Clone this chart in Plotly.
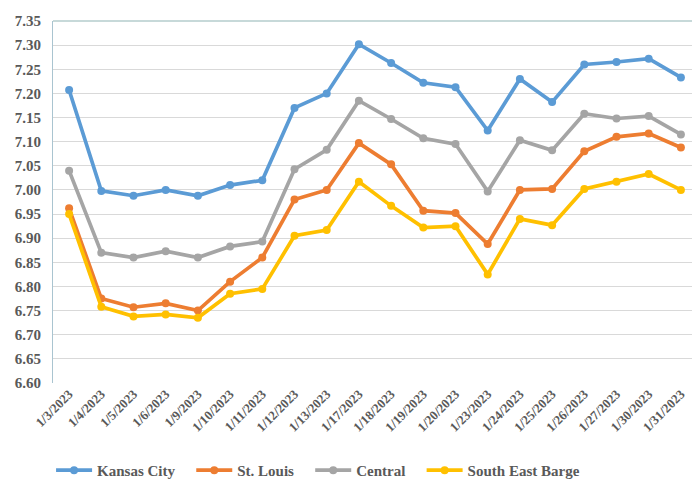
import plotly.graph_objects as go

dates = ["1/3/2023", "1/4/2023", "1/5/2023", "1/6/2023", "1/9/2023", "1/10/2023", "1/11/2023",
         "1/12/2023", "1/13/2023", "1/17/2023", "1/18/2023", "1/19/2023", "1/20/2023", "1/23/2023",
         "1/24/2023", "1/25/2023", "1/26/2023", "1/27/2023", "1/30/2023", "1/31/2023"]

kansas_city = [7.207, 6.998, 6.988, 7.000, 6.988, 7.010, 7.020, 7.170, 7.200, 7.302,
               7.263, 7.222, 7.213, 7.123, 7.230, 7.182, 7.260, 7.265, 7.272, 7.233]
st_louis = [6.962, 6.775, 6.757, 6.765, 6.750, 6.810, 6.860, 6.980, 7.000, 7.097,
            7.053, 6.957, 6.952, 6.888, 7.000, 7.002, 7.080, 7.110, 7.117, 7.088]
central = [7.040, 6.870, 6.860, 6.873, 6.860, 6.883, 6.893, 7.043, 7.083, 7.185,
           7.147, 7.107, 7.095, 6.997, 7.103, 7.082, 7.158, 7.148, 7.153, 7.115]
se_barge = [6.950, 6.758, 6.738, 6.742, 6.735, 6.785, 6.795, 6.905, 6.917, 7.017,
            6.967, 6.922, 6.925, 6.825, 6.940, 6.927, 7.002, 7.017, 7.033, 7.000]

series_names = ["Kansas City", "St. Louis", "Central", "South East Barge"]
series_colors = ["#5B9BD5", "#ED7D31", "#A5A5A5", "#FFC000"]
series_values = [kansas_city, st_louis, central, se_barge]

pad = "\u00a0\u00a0\u00a0"
fig = go.Figure()
for i, (name, vals, color) in enumerate(zip(series_names, series_values, series_colors)):
    label = name + (pad if i < len(series_names) - 1 else "")
    fig.add_trace(go.Scatter(
        x=dates, y=vals, name=label, mode="lines+markers",
        line=dict(color=color, width=3.7),
        marker=dict(color=color, size=8),
    ))

font_family = "Liberation Serif, Times New Roman, serif"
fig.update_layout(
    width=700, height=495,
    margin=dict(l=45, r=11, t=13, b=120),
    paper_bgcolor="white", plot_bgcolor="white",
    font=dict(family=font_family, color="#595959", size=13),
    showlegend=True,
    legend=dict(orientation="h", x=-0.003, y=-0.196, xanchor="left", yanchor="top",
                font=dict(family=font_family, size=15, color="#595959", weight="bold"),
                tracegroupgap=0, itemwidth=36),
    xaxis=dict(
        type="category", showgrid=False, showline=False, zeroline=False,
        tickangle=-45, ticks="", automargin=False,
        tickfont=dict(family=font_family, size=13, color="#595959", weight="bold"),
        range=[-0.5, len(dates) - 0.5],
    ),
    yaxis=dict(
        range=[6.60, 7.35], dtick=0.05, tickformat=".2f",
        showgrid=True, gridcolor="#D9D9D9", gridwidth=1,
        showline=True, linecolor="#A9C4D0", linewidth=1,
        zeroline=False, ticks="outside", ticklen=8, tickcolor="rgba(0,0,0,0)",
        automargin=False,
        tickfont=dict(family=font_family, size=15, color="#595959", weight="bold"),
    ),
)

fig.add_shape(type="line", xref="paper", yref="paper", x0=0, x1=1, y0=1, y1=1,
              line=dict(color="#8FB3B3", width=1))

fig.write_html("out.html")
